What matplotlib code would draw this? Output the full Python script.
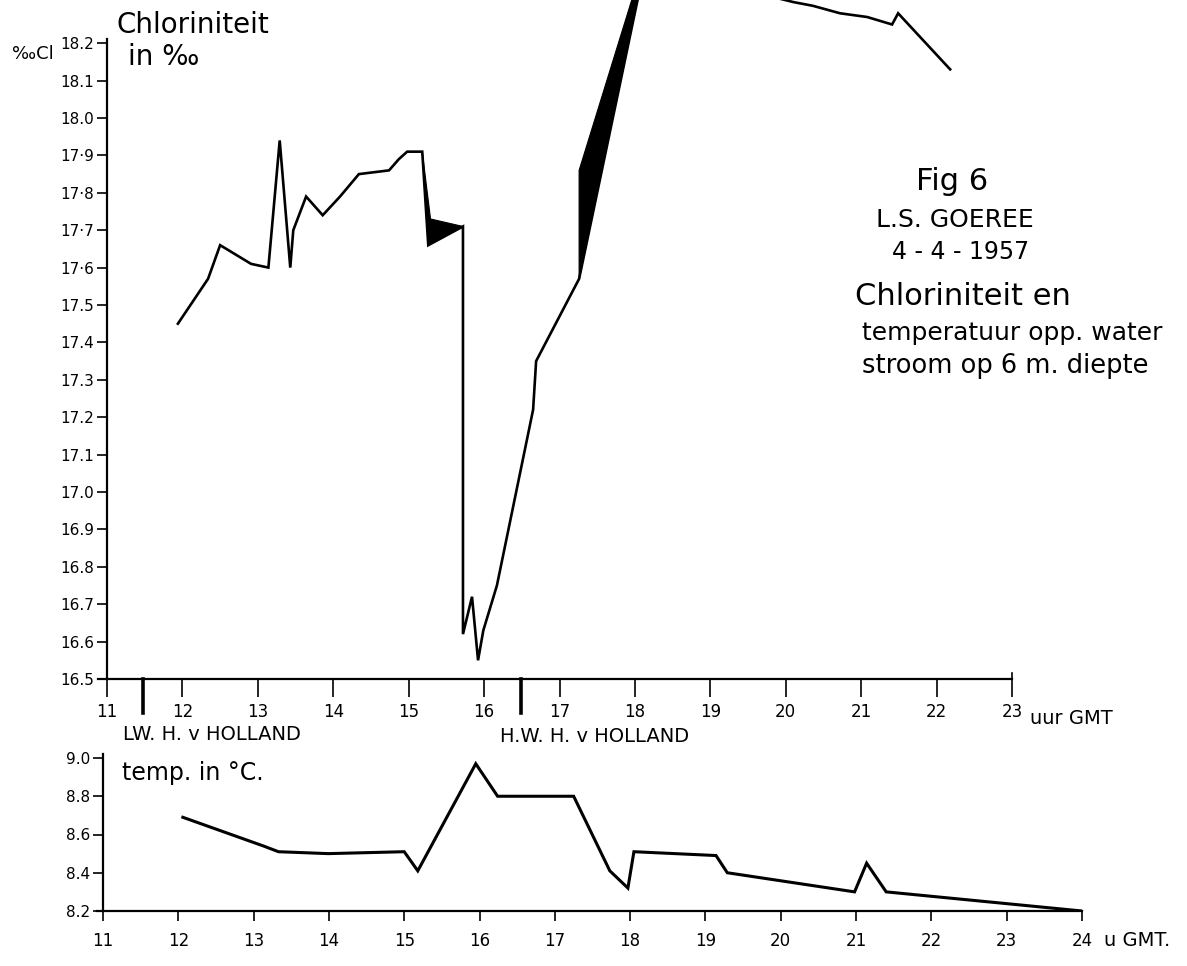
import matplotlib
matplotlib.use("Agg")
import matplotlib.pyplot as plt

# chlorinity of the surface water (upper panel), hours GMT / per mille Cl
cl_hours = [11.94, 12.34, 12.50, 12.91, 13.14, 13.29, 13.43, 13.47, 13.64, 13.86,
            14.09, 14.34, 14.74, 14.87, 14.98, 15.18, 15.26, 15.72, 15.72, 15.84,
            15.92, 15.99, 16.17, 16.65, 16.69, 17.26, 18.05, 18.80, 19.50, 20.10,
            20.36, 20.72, 21.08, 21.41, 21.49, 22.18]
cl_values = [17.45, 17.57, 17.66, 17.61, 17.60, 17.94, 17.60, 17.70, 17.79, 17.74,
             17.79, 17.85, 17.86, 17.89, 17.91, 17.91, 17.66, 17.71, 16.62, 16.72,
             16.55, 16.63, 16.75, 17.22, 17.35, 17.57, 18.33, 18.45, 18.34, 18.31,
             18.30, 18.28, 18.27, 18.25, 18.28, 18.13]

# black filled wedges drawn on the chlorinity curve
wedge1_hours = [15.18, 15.29, 15.72, 15.26]
wedge1_values = [17.91, 17.73, 17.71, 17.66]
wedge2_hours = [17.26, 17.26, 17.98, 18.05]
wedge2_values = [17.57, 17.86, 18.33, 18.33]

# temperature (lower panel)
t_hours = [12.06, 13.13, 13.33, 13.99, 15.00, 15.18, 15.95, 16.24, 17.25, 17.73,
           17.97, 18.05, 19.14, 19.29, 20.98, 21.14, 21.40, 24.00]
t_values = [8.69, 8.54, 8.51, 8.50, 8.51, 8.41, 8.97, 8.80, 8.80, 8.41,
            8.32, 8.51, 8.49, 8.40, 8.30, 8.45, 8.30, 8.20]

cl_ticks = [16.5, 16.6, 16.7, 16.8, 16.9, 17.0, 17.1, 17.2, 17.3, 17.4, 17.5,
            17.6, 17.7, 17.8, 17.9, 18.0, 18.1, 18.2]
cl_ticklabels = ['16.5', '16.6', '16.7', '16.8', '16.9', '17.0', '17.1', '17.2',
                 '17.3', '17.4', '17.5', '17·6', '17·7', '17·8', '17·9', '18.0',
                 '18.1', '18.2']
hour_ticks_top = list(range(11, 24))
hour_ticks_bottom = list(range(11, 25))
t_ticks = [8.2, 8.4, 8.6, 8.8, 9.0]
t_ticklabels = ['8.2', '8.4', '8.6', '8.8', '9.0']

# low / high water at Hoek van Holland
tide_hours = [11.48, 16.49]
tide_labels = ['LW. H. v HOLLAND', 'H.W. H. v HOLLAND']

W, H = 1187, 966
plt.rcParams['font.family'] = 'DejaVu Sans'


def fx(px):
    return px / W


def fy(py):
    return 1 - py / H


fig = plt.figure(figsize=(W / 100, H / 100), dpi=100)

# upper panel: 11 h at x=107px, 23 h at 1012px, 16.5 at y=679px
x_per_h = (1012 - 107) / 12
y_per_unit = 374
ax = fig.add_axes([fx(107 - 0.12 * x_per_h), fy(679), (1012 - 107 + 0.12 * x_per_h) / W, 679 / H])
ax.set_xlim(10.88, 23)
ax.set_ylim(16.5, 16.5 + 679 / y_per_unit)

ax.plot(cl_hours, cl_values, color='black', lw=1.9, solid_joinstyle='miter')
ax.fill(wedge1_hours, wedge1_values, color='black', lw=0.8)
ax.fill(wedge2_hours, wedge2_values, color='black', lw=0.8)

for s in ['top', 'right']:
    ax.spines[s].set_visible(False)
ax.spines['left'].set_position(('data', 11))
ax.spines['left'].set_bounds(16.5, 18.21)
ax.spines['left'].set_linewidth(1.6)
ax.spines['bottom'].set_linewidth(1.6)
ax.set_xticks(hour_ticks_top)
ax.set_xticklabels([str(h) for h in hour_ticks_top])
ax.set_yticks(cl_ticks)
ax.set_yticklabels(cl_ticklabels)
ax.tick_params(axis='x', direction='out', length=13, width=1.2, labelsize=12, pad=4)
ax.tick_params(axis='y', direction='out', length=7, width=1.2, labelsize=11, pad=2)

for h in tide_hours:
    ax.plot([h, h], [16.5, 16.5 - 34 / y_per_unit], color='black', lw=2.6, clip_on=False)
# small cross at the end of the time axis
ax.plot([23, 23], [16.5, 16.5 + 6 / y_per_unit], color='black', lw=1.2, clip_on=False)

fig.text(fx(123), fy(735), tide_labels[0], fontsize=14, va='center', ha='left')
fig.text(fx(500), fy(737), tide_labels[1], fontsize=14, va='center', ha='left')
fig.text(fx(1030), fy(718), 'uur GMT', fontsize=14, va='center', ha='left')

fig.text(fx(12), fy(54), '‰Cl', fontsize=13, va='center', ha='left')
fig.text(fx(117), fy(25), 'Chloriniteit', fontsize=20, va='center', ha='left')
fig.text(fx(128), fy(57), 'in ‰', fontsize=20, va='center', ha='left')

fig.text(fx(952), fy(182), 'Fig 6', fontsize=22, va='center', ha='center')
fig.text(fx(955), fy(220), 'L.S. GOEREE', fontsize=18, va='center', ha='center')
fig.text(fx(961), fy(252), '4 - 4 - 1957', fontsize=17, va='center', ha='center')
fig.text(fx(855), fy(296), 'Chloriniteit en', fontsize=22, va='center', ha='left')
fig.text(fx(862), fy(333), 'temperatuur opp. water', fontsize=18, va='center', ha='left')
fig.text(fx(862), fy(366), 'stroom op 6 m. diepte', fontsize=18.5, va='center', ha='left')

# lower panel: 11 h at x=103px, 24 h at 1082px, 8.2 at y=911px, 9.0 at 758px
bx_per_h = (1082 - 103) / 13
by_per_unit = (911 - 758) / 0.8
ax2 = fig.add_axes([fx(103 - 0.08 * bx_per_h), fy(911), (1082 - 103 + 0.08 * bx_per_h) / W,
                    (911 - 745) / H])
ax2.set_xlim(10.92, 24)
ax2.set_ylim(8.2, 8.2 + (911 - 745) / by_per_unit)
ax2.plot(t_hours, t_values, color='black', lw=2.2, solid_joinstyle='miter')

for s in ['top', 'right']:
    ax2.spines[s].set_visible(False)
ax2.spines['left'].set_position(('data', 11))
ax2.spines['left'].set_bounds(8.2, 9.02)
ax2.spines['left'].set_linewidth(1.6)
ax2.spines['bottom'].set_linewidth(1.6)
ax2.set_xticks(hour_ticks_bottom)
ax2.set_xticklabels([str(h) for h in hour_ticks_bottom])
ax2.set_yticks(t_ticks)
ax2.set_yticklabels(t_ticklabels)
ax2.tick_params(axis='x', direction='out', length=7, width=1.2, labelsize=12, pad=8)
ax2.tick_params(axis='y', direction='out', length=7, width=1.2, labelsize=11, pad=2)

fig.text(fx(122), fy(773), 'temp. in °C.', fontsize=17, va='center', ha='left')
fig.text(fx(1104), fy(940), 'u GMT.', fontsize=14, va='center', ha='left')

fig.savefig('out.png', dpi=100)
